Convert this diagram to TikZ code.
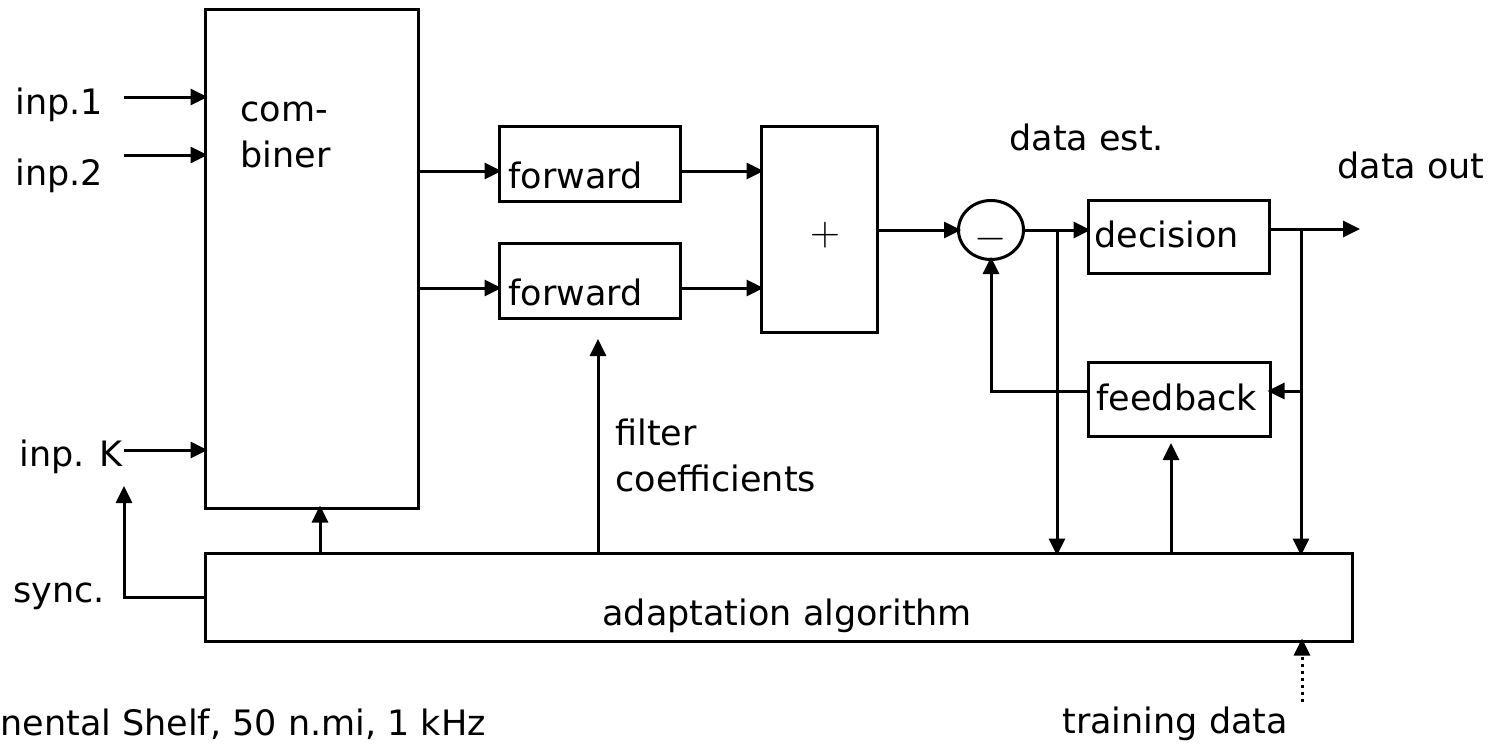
\documentclass[tikz,border=0pt]{standalone}
\usepackage{fontspec}
\setmainfont{DejaVu Sans}
\usepackage{tikz}
\usetikzlibrary{shapes.geometric, arrows.meta}

\begin{document}
\begin{tikzpicture}[
            x=0.5pt, y=-0.5pt,
            blk/.style={draw, line width=1.5pt, inner sep=0pt}, % plain box
            arr/.style={line width=1.5pt, -{Triangle[length=8.5pt, width=8pt]}, shorten >=-2pt}, % signal arrow
            txt/.style={inner sep=0pt, anchor=base west, align=left, font=\fontsize{17.5}{23}\selectfont}
            ]

    % page frame
    \useasboundingbox (0,0) rectangle (1490,744);

    % blocks
    \node[blk, minimum width=106.5pt, minimum height=249.5pt] (comb) at (311.5,258.5) {};
    \node[blk, minimum width=90.5pt, minimum height=37.5pt] (fwd1) at (589.5,163.5) {};
    \node[blk, minimum width=90.5pt, minimum height=37.5pt] (fwd2) at (589.5,280.5) {};
    \node[blk, minimum width=58pt, minimum height=103pt] (sum) at (819,229) {};
    \node[blk, ellipse, minimum width=32.5pt, minimum height=29.5pt] (sub) at (991,230) {};
    \node[blk, minimum width=90.5pt, minimum height=36.5pt] (dec) at (1178.5,236.5) {};
    \node[blk, minimum width=91pt, minimum height=37pt] (fb) at (1179,399) {};
    \node[blk, minimum width=573.5pt, minimum height=44pt] (alg) at (778.5,597) {};

    % texts (base of a two line text is its last line)
    \node[txt] (combtxt) at (240,167) {com-\\biner};
    \node[txt] (fwd1txt) at (508,188) {forward};
    \node[txt] (fwd2txt) at (508,305) {forward};
    \node[inner sep=0pt, font=\fontsize{20}{24}\selectfont] (plus) at (825,235) {$+$};
    \node[inner sep=0pt, font=\fontsize{20}{24}\selectfont] (minus) at (991,239) {$-$};
    \node[txt] (dectxt) at (1094,247) {decision};
    \node[txt] (fbtxt) at (1096,410) {feedback};
    \node[txt] (algtxt) at (602,625) {adaptation algorithm};
    \node[txt] (in1) at (15,114) {inp.1};
    \node[txt] (in2) at (15,185) {inp.2};
    \node[txt, anchor=base east] (inK) at (123,466) {inp. K};
    \node[txt] (sync) at (13,602) {sync.};
    \node[txt] (dest) at (1009,150) {data est.};
    \node[txt] (dout) at (1337,178) {data out};
    \node[txt] (filt) at (615,491) {filter\\coefficients};
    \node[txt] (train) at (1062,733) {training data};
    \node[txt] (shelf) at (0,735) {nental Shelf, 50 n.mi, 1 kHz};

    % free ends and branch points
    \coordinate (i1) at (124,97);
    \coordinate (i2) at (124,155);
    \coordinate (iK) at (124,450);
    \coordinate (sy) at (124,490);
    \coordinate (b1) at (1057,230);
    \coordinate (b2) at (1301,229);
    \coordinate (out) at (1356,229);
    \coordinate (fbup) at (1171,447);
    \coordinate (coef) at (598,343);
    \coordinate (trn) at (1302,702);

    % inputs
    \draw[arr] (i1) -- (i1 -| comb.west);
    \draw[arr] (i2) -- (i2 -| comb.west);
    \draw[arr] (iK) -- (iK -| comb.west);
    \draw[arr] (alg.west) -| (sy);

    % forward path
    \draw[arr] (comb.east |- 0,171) -- (fwd1.west |- 0,171);
    \draw[arr] (comb.east |- 0,288) -- (fwd2.west |- 0,288);
    \draw[arr] (fwd1.east |- 0,171) -- (sum.west |- 0,171);
    \draw[arr] (fwd2.east |- 0,288) -- (sum.west |- 0,288);
    \draw[arr] (sum.east |- sub.west) -- (sub.west);
    \draw[arr] (sub.east) -- (dec.west |- sub.east);
    \draw[arr] (dec.east |- out) -- (out);

    % feedback loop
    \draw[arr] (b2 |- 0,391) -- (fb.east |- 0,391);
    \draw[arr] (fb.west |- 0,391) -| (sub.south);

    % to and from the adaptation
    \draw[arr] (b1) -- (b1 |- alg.north);
    \draw[arr] (b2) -- (b2 |- alg.north);
    \draw[arr] (fbup |- alg.north) -- (fbup);
    \draw[arr] (coef |- alg.north) -- (coef);
    \draw[arr] (alg.north -| 320,0) -- (comb.south -| 320,0);
    \draw[arr, dotted] (trn) -- (trn |- alg.south);

\end{tikzpicture}
\end{document}
